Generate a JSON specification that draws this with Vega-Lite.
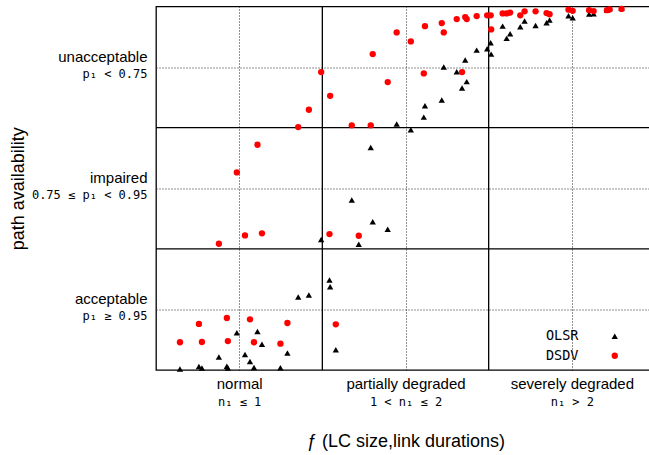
{
  "$schema": "https://vega.github.io/schema/vega-lite/v6.json",
  "width": 499,
  "height": 363.5,
  "autosize": {"type": "none"},
  "padding": {"left": 156, "top": 6.5, "right": -6, "bottom": 85},
  "background": "white",
  "config": {
    "view": {"stroke": "black", "strokeWidth": 1.3},
    "axis": {"domain": false, "labelColor": "black", "titleColor": "black"}
  },
  "resolve": {"axis": {"x": "independent", "y": "independent"}},
  "layer": [
    {
      "data": {"values": [{"b": 1}, {"b": 2}]},
      "mark": {"type": "rule", "color": "black", "strokeWidth": 1.3},
      "encoding": {
        "x": {
          "field": "b", "type": "quantitative",
          "scale": {"domain": [0, 3], "nice": false, "zero": false},
          "axis": {
            "orient": "bottom", "values": [0.5, 1.5, 2.5], "ticks": false,
            "grid": true, "gridColor": "#222", "gridDash": [1, 2], "gridOpacity": 1, "gridWidth": 1,
            "labelExpr": "datum.value == 0.5 ? 'normal' : datum.value == 1.5 ? 'partially degraded' : 'severely degraded'",
            "labelFont": "Liberation Sans", "labelFontSize": 15, "labelBaseline": "middle", "labelPadding": 13,
            "title": "ƒ (LC size,link durations)", "titleFont": "Liberation Sans", "titleFontSize": 18,
            "titleFontWeight": "normal", "titleBaseline": "middle", "titleY": 71
          }
        }
      }
    },
    {
      "data": {"values": [{"b": 1}, {"b": 2}]},
      "mark": {"type": "rule", "color": "black", "strokeWidth": 1.3},
      "encoding": {
        "y": {
          "field": "b", "type": "quantitative",
          "scale": {"domain": [0, 3], "nice": false, "zero": false},
          "axis": {
            "orient": "left", "values": [0.5, 1.5, 2.5], "ticks": false,
            "grid": true, "gridColor": "#222", "gridDash": [1, 2], "gridOpacity": 1, "gridWidth": 1,
            "labelExpr": "datum.value == 0.5 ? 'acceptable' : datum.value == 1.5 ? 'impaired' : 'unacceptable'",
            "labelFont": "Liberation Sans", "labelFontSize": 15, "labelBaseline": "middle", "labelAlign": "right",
            "labelPadding": 9, "labelOffset": -11,
            "title": "path availability", "titleFont": "Liberation Sans", "titleFontSize": 18,
            "titleFontWeight": "normal", "titleX": -138, "titleBaseline": "middle"
          }
        }
      }
    },
    {
      "data": {"values": [
        {"p": "OLSR", "x": 0.144, "y": 0.008}, {"p": "OLSR", "x": 0.258, "y": 0.029}, {"p": "OLSR", "x": 0.276, "y": 0.017},
        {"p": "OLSR", "x": 0.378, "y": 0.107}, {"p": "OLSR", "x": 0.426, "y": 0.031}, {"p": "OLSR", "x": 0.432, "y": 0.017},
        {"p": "OLSR", "x": 0.486, "y": 0.308}, {"p": "OLSR", "x": 0.535, "y": 0.128}, {"p": "OLSR", "x": 0.565, "y": 0.070},
        {"p": "OLSR", "x": 0.589, "y": 0.021}, {"p": "OLSR", "x": 0.610, "y": 0.318}, {"p": "OLSR", "x": 0.637, "y": 0.212},
        {"p": "OLSR", "x": 0.748, "y": 0.019}, {"p": "OLSR", "x": 0.790, "y": 0.140}, {"p": "OLSR", "x": 0.855, "y": 0.602},
        {"p": "OLSR", "x": 0.919, "y": 0.619}, {"p": "OLSR", "x": 0.993, "y": 1.077}, {"p": "OLSR", "x": 1.043, "y": 0.743},
        {"p": "OLSR", "x": 1.047, "y": 0.687}, {"p": "OLSR", "x": 1.081, "y": 0.167}, {"p": "OLSR", "x": 1.177, "y": 1.403},
        {"p": "OLSR", "x": 1.219, "y": 1.037}, {"p": "OLSR", "x": 1.291, "y": 1.836}, {"p": "OLSR", "x": 1.303, "y": 1.224},
        {"p": "OLSR", "x": 1.393, "y": 1.161}, {"p": "OLSR", "x": 1.447, "y": 2.030}, {"p": "OLSR", "x": 1.532, "y": 1.983},
        {"p": "OLSR", "x": 1.610, "y": 2.087}, {"p": "OLSR", "x": 1.617, "y": 2.181}, {"p": "OLSR", "x": 1.718, "y": 2.228},
        {"p": "OLSR", "x": 1.730, "y": 2.500}, {"p": "OLSR", "x": 1.808, "y": 2.461}, {"p": "OLSR", "x": 1.840, "y": 2.327},
        {"p": "OLSR", "x": 1.859, "y": 2.558}, {"p": "OLSR", "x": 1.868, "y": 2.380}, {"p": "OLSR", "x": 1.928, "y": 2.640},
        {"p": "OLSR", "x": 1.991, "y": 2.651}, {"p": "OLSR", "x": 2.012, "y": 2.700}, {"p": "OLSR", "x": 2.015, "y": 2.607},
        {"p": "OLSR", "x": 2.084, "y": 2.838}, {"p": "OLSR", "x": 2.108, "y": 2.737}, {"p": "OLSR", "x": 2.129, "y": 2.775},
        {"p": "OLSR", "x": 2.190, "y": 2.833}, {"p": "OLSR", "x": 2.216, "y": 2.880}, {"p": "OLSR", "x": 2.282, "y": 2.844},
        {"p": "OLSR", "x": 2.348, "y": 2.866}, {"p": "OLSR", "x": 2.366, "y": 2.888}, {"p": "OLSR", "x": 2.480, "y": 2.923},
        {"p": "OLSR", "x": 2.505, "y": 2.908}, {"p": "OLSR", "x": 2.604, "y": 2.937}, {"p": "OLSR", "x": 2.631, "y": 2.940},
        {"p": "OLSR", "x": 2.711, "y": 2.970}, {"p": "OLSR", "x": 2.727, "y": 2.984}, {"p": "OLSR", "x": 2.799, "y": 2.985},
        {"p": "DSDV", "x": 0.144, "y": 0.229}, {"p": "DSDV", "x": 0.258, "y": 0.380}, {"p": "DSDV", "x": 0.276, "y": 0.231},
        {"p": "DSDV", "x": 0.378, "y": 1.042}, {"p": "DSDV", "x": 0.426, "y": 0.429}, {"p": "DSDV", "x": 0.432, "y": 0.239},
        {"p": "DSDV", "x": 0.486, "y": 1.631}, {"p": "DSDV", "x": 0.535, "y": 1.111}, {"p": "DSDV", "x": 0.565, "y": 0.418},
        {"p": "DSDV", "x": 0.589, "y": 0.229}, {"p": "DSDV", "x": 0.610, "y": 1.859}, {"p": "DSDV", "x": 0.637, "y": 1.128},
        {"p": "DSDV", "x": 0.748, "y": 0.217}, {"p": "DSDV", "x": 0.790, "y": 0.388}, {"p": "DSDV", "x": 0.855, "y": 2.005},
        {"p": "DSDV", "x": 0.919, "y": 2.148}, {"p": "DSDV", "x": 0.993, "y": 2.459}, {"p": "DSDV", "x": 1.047, "y": 2.263},
        {"p": "DSDV", "x": 1.043, "y": 1.122}, {"p": "DSDV", "x": 1.081, "y": 0.377}, {"p": "DSDV", "x": 1.177, "y": 2.019},
        {"p": "DSDV", "x": 1.219, "y": 1.108}, {"p": "DSDV", "x": 1.291, "y": 2.019}, {"p": "DSDV", "x": 1.303, "y": 2.607},
        {"p": "DSDV", "x": 1.393, "y": 2.376}, {"p": "DSDV", "x": 1.447, "y": 2.786}, {"p": "DSDV", "x": 1.532, "y": 2.712},
        {"p": "DSDV", "x": 1.610, "y": 2.448}, {"p": "DSDV", "x": 1.617, "y": 2.838}, {"p": "DSDV", "x": 1.718, "y": 2.863},
        {"p": "DSDV", "x": 1.730, "y": 2.786}, {"p": "DSDV", "x": 1.808, "y": 2.896}, {"p": "DSDV", "x": 1.840, "y": 2.459},
        {"p": "DSDV", "x": 1.859, "y": 2.913}, {"p": "DSDV", "x": 1.868, "y": 2.896}, {"p": "DSDV", "x": 1.928, "y": 2.921},
        {"p": "DSDV", "x": 1.991, "y": 2.927}, {"p": "DSDV", "x": 2.012, "y": 2.927}, {"p": "DSDV", "x": 2.015, "y": 2.811},
        {"p": "DSDV", "x": 2.084, "y": 2.943}, {"p": "DSDV", "x": 2.108, "y": 2.943}, {"p": "DSDV", "x": 2.129, "y": 2.950},
        {"p": "DSDV", "x": 2.190, "y": 2.927}, {"p": "DSDV", "x": 2.216, "y": 2.960}, {"p": "DSDV", "x": 2.282, "y": 2.960},
        {"p": "DSDV", "x": 2.348, "y": 2.946}, {"p": "DSDV", "x": 2.366, "y": 2.937}, {"p": "DSDV", "x": 2.480, "y": 2.974},
        {"p": "DSDV", "x": 2.505, "y": 2.964}, {"p": "DSDV", "x": 2.604, "y": 2.970}, {"p": "DSDV", "x": 2.631, "y": 2.962},
        {"p": "DSDV", "x": 2.711, "y": 2.970}, {"p": "DSDV", "x": 2.727, "y": 2.976}, {"p": "DSDV", "x": 2.799, "y": 2.980}
      ]},
      "mark": {"type": "point", "filled": true, "opacity": 1, "size": 40},
      "encoding": {
        "x": {
          "field": "x", "type": "quantitative",
          "scale": {"domain": [0, 3], "nice": false, "zero": false},
          "axis": {
            "orient": "bottom", "values": [0.5, 1.5, 2.5], "ticks": false, "grid": false, "title": null,
            "labelExpr": "datum.value == 0.5 ? 'n₁ ≤ 1' : datum.value == 1.5 ? '1 < n₁ ≤ 2' : 'n₁ > 2'",
            "labelFont": "DejaVu Sans Mono", "labelFontSize": 12, "labelBaseline": "middle", "labelPadding": 31
          }
        },
        "y": {
          "field": "y", "type": "quantitative",
          "scale": {"domain": [0, 3], "nice": false, "zero": false},
          "axis": {
            "orient": "left", "values": [0.5, 1.5, 2.5], "ticks": false, "grid": false, "title": null,
            "labelExpr": "datum.value == 0.5 ? 'p₁ ≥ 0.95' : datum.value == 1.5 ? '0.75 ≤ p₁ < 0.95' : 'p₁ < 0.75'",
            "labelFont": "DejaVu Sans Mono", "labelFontSize": 12, "labelBaseline": "middle", "labelAlign": "right",
            "labelPadding": 9, "labelOffset": 6.5
          }
        },
        "color": {
          "field": "p", "type": "nominal",
          "scale": {"domain": ["OLSR", "DSDV"], "range": ["black", "#ff0000"]},
          "legend": {
            "title": null, "orient": "none", "legendX": 452, "legendY": 323, "padding": 0,
            "labelFont": "DejaVu Sans Mono", "labelFontSize": 13.5, "labelColor": "black",
            "labelAlign": "right", "labelOffset": -43, "rowPadding": 4.5, "symbolSize": 40,
            "symbolStrokeWidth": 0, "symbolOpacity": 1
          }
        },
        "shape": {
          "field": "p", "type": "nominal",
          "scale": {"domain": ["OLSR", "DSDV"], "range": ["triangle-up", "circle"]}
        }
      }
    }
  ]
}
